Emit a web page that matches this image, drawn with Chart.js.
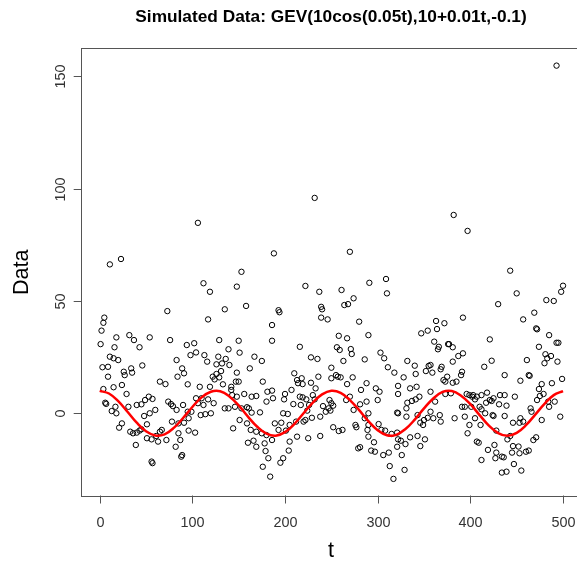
<!DOCTYPE html>
<html>
<head>
<meta charset="utf-8">
<script src="https://cdn.jsdelivr.net/npm/chart.js@4"></script>
<style>
  html, body { margin: 0; padding: 0; background: #fff; overflow: hidden; }
  #wrap { width: 592px; height: 568px; }
</style>
</head>
<body>
<div id="wrap"><canvas id="gevChart" width="592" height="568"></canvas></div>
<script>
// simulated GEV draws (t, value)
const tValues = [
  11, 23, 73, 5, 4, 2, 1, 18, 32, 37,
  43, 16, 54, 76, 11, 15, 20, 3, 9, 9,
  26, 27, 34, 35, 46, 83, 84, 65, 71, 4,
  15, 24, 29, 6, 7, 17, 13, 18, 31, 24,
  21, 40, 45, 49, 53, 57, 48, 54, 60, 51,
  33, 36, 40, 43, 45, 39, 51, 56, 61, 63,
  65, 67, 72, 78, 82, 85, 87, 56, 57, 74,
  77, 79, 83,
  188, 153, 112, 119, 148, 158, 135, 117, 186, 186,
  129, 150, 94, 102, 98, 104, 139, 151, 113, 116,
  128, 136, 167, 175, 89, 91, 126, 132, 140, 122,
  126, 131, 129, 162, 148, 147, 176, 181, 180, 187,
  95, 108, 119, 133, 142, 150, 124, 104, 110, 117,
  123, 106, 112, 142, 143, 148, 156, 164, 169, 135,
  139, 146, 153, 159, 161, 173, 164, 90, 95, 99,
  96, 91, 85, 109, 114, 120, 89, 88, 103, 96,
  144, 151, 159, 163, 169, 175, 180, 186, 160, 166,
  169, 178, 179, 182, 176, 184,
  270, 222, 237, 261, 291, 193, 194, 239, 240, 264,
  268, 274, 239, 246, 280, 290, 258, 267, 216, 256,
  259, 271, 272, 228, 235, 263, 286, 250, 210, 213,
  218, 214, 219, 236, 250, 255, 257, 260, 273, 228,
  233, 267, 288, 282, 186, 200, 199, 207, 209, 216,
  219, 223, 230, 232, 226, 224, 217, 241, 244, 247,
  249, 252, 248, 250, 266, 270, 281, 288, 290, 274,
  276, 277, 290, 198, 203, 196, 189, 193, 201, 205,
  212, 220, 222, 229, 238, 252, 258, 262, 198, 195,
  205, 213, 204, 225, 238, 279, 281,
  309, 310, 392, 363, 372, 354, 347, 364, 361, 376,
  377, 381, 365, 366, 303, 307, 332, 340, 341, 392,
  387, 381, 391, 390, 311, 318, 355, 357, 352, 359,
  369, 368, 328, 335, 322, 342, 298, 302, 300, 322,
  371, 375, 373, 381, 385, 379, 373, 332, 337, 341,
  345, 331, 362, 357, 357, 383, 391, 394, 286, 321,
  322, 331, 343, 346, 350, 349, 354, 360, 367, 368,
  296, 293, 297, 306, 312, 313, 317, 321, 325, 326,
  329, 330, 335, 343, 346, 351, 290, 289, 301, 304,
  308, 315, 321, 322,
  443, 450, 430, 482, 490, 500, 498, 469, 457, 471,
  472, 485, 493, 495, 421, 474, 481, 487, 483, 480,
  494, 423, 415, 461, 437, 463, 464, 454, 488, 499,
  477, 474, 475, 479, 472, 484, 491, 485, 497, 477,
  465, 466, 454, 457, 453, 446, 448, 432, 437, 425,
  418, 421, 412, 403, 399, 396, 402, 407, 405, 401,
  394, 410, 417, 423, 431, 439, 424, 416, 412, 405,
  399, 397, 411, 425, 437, 407, 409, 428, 419, 426,
  428, 434, 436, 427, 445, 446, 452, 453, 460, 463,
  468, 471, 440, 443, 412, 447, 455, 434, 439,
  106, 232, 382, 397, 493
];
const dataValues = [
  66.3, 68.7, 45.5, 42.6, 40.3, 36.8, 30.8, 33.8, 34.8, 32.6,
  29.4, 29.4, 33.8, 32.6, 25.2, 24.5, 23.7, 20.5, 20.7, 16.3,
  18.5, 17.0, 20.0, 18.1, 21.3, 23.7, 16.3, 14.1, 13.0, 10.8,
  11.6, 12.6, 8.6, 4.7, 4.2, 2.9, 1.0, 0.0, 2.9, -4.5,
  -6.4, 3.7, 4.0, 5.9, 7.4, 6.4, -1.2, 0.0, 1.5, -4.9,
  -8.2, -8.9, -8.6, -7.7, -7.1, -14.1, -11.1, -11.6, -10.1, -12.6,
  -8.2, -7.4, -11.9, -3.7, -14.9, -8.9, -11.9, -21.5, -22.2, 5.2,
  4.1, 3.2, 1.5,
  71.2, 63.0, 57.9, 54.1, 56.4, 47.8, 46.3, 41.8, 39.3, 32.3,
  32.6, 32.3, 30.4, 31.2, 25.9, 27.1, 28.5, 27.0, 25.9, 23.0,
  25.2, 24.2, 25.2, 23.3, 20.0, 17.8, 21.8, 22.2, 21.5, 16.3,
  17.5, 18.8, 16.0, 20.0, 18.1, 14.1, 14.1, 9.6, 5.2, 6.7,
  12.9, 11.8, 11.8, 12.9, 11.8, 14.1, 15.1, 6.7, 6.7, 6.2,
  4.5, 4.5, 3.7, 10.4, 8.1, 7.4, 8.6, 7.4, 7.7, 2.2,
  2.2, 2.9, 2.2, 2.7, 2.2, 0.4, 0.3, 3.7, 0.7, 0.7,
  -2.2, -4.2, -4.5, -0.8, -0.4, 0.0, -18.6, -19.3, -8.6, -7.7,
  -6.7, -3.0, -4.5, -7.4, -8.2, -8.9, -9.7, -11.9, -13.1, -12.2,
  -14.9, -13.4, -16.8, -20.0, -23.8, -28.2,
  71.9, 56.7, 54.1, 54.9, 58.1, 45.9, 45.0, 47.4, 46.3, 48.2,
  48.6, 51.2, 42.6, 41.8, 40.8, 34.8, 34.5, 33.4, 29.6, 29.4,
  28.2, 28.6, 26.4, 24.9, 24.2, 23.3, 24.0, 20.3, 17.8, 14.8,
  15.6, 13.4, 13.0, 16.3, 15.6, 17.0, 16.3, 16.0, 16.0, 13.6,
  11.1, 13.0, 13.4, 10.4, 10.1, 8.6, 6.2, 10.4, 4.1, 7.4,
  7.1, 6.2, 8.1, 6.2, 3.7, 1.2, 3.7, 3.2, 0.7, 2.2,
  1.2, 3.4, 5.9, 4.5, 5.9, 7.4, 4.0, 5.2, 0.0, 1.5,
  -5.2, -6.2, -10.4, 0.0, -0.3, -4.2, -4.5, -7.4, -7.7, -5.2,
  -3.7, -3.7, -3.0, -2.0, -1.5, -6.2, -7.9, -7.4, -20.0, -22.0,
  -12.6, -10.4, -16.6, -11.1, -10.1, -15.6, -15.1,
  59.8, 53.4, 42.6, 41.1, 40.1, 36.8, 35.6, 37.5, 31.9, 30.8,
  30.8, 29.4, 28.5, 29.6, 27.0, 24.5, 23.3, 21.2, 17.5, 26.7,
  25.5, 23.0, 18.5, 17.0, 20.5, 18.1, 21.1, 21.5, 18.8, 18.1,
  20.7, 19.6, 16.0, 11.1, 12.2, 11.8, 11.1, 9.6, 5.9, 8.6,
  14.8, 16.3, 14.1, 13.6, 14.1, 8.9, 8.6, 4.7, 5.5, 6.2,
  7.4, 2.2, 5.2, 9.6, 0.7, -2.2, 2.9, -1.5, -2.2, 0.3,
  0.0, -1.5, -0.8, -4.2, -3.0, -5.2, -2.0, -2.2, -0.8, -3.7,
  -12.9, -16.6, -17.1, -18.6, -17.5, -23.5, -29.2, -14.9, -12.2, -18.6,
  -25.2, -13.7, -10.7, -10.1, -14.6, -11.6, -5.2, -7.4, -4.8, -7.4,
  -7.7, -9.2, -8.6, -11.6,
  63.5, 53.4, 48.6, 50.4, 50.0, 56.8, 54.1, 44.8, 41.8, 37.8,
  37.4, 34.8, 31.4, 31.4, 32.9, 29.6, 26.3, 25.5, 24.5, 22.3,
  23.0, 23.4, 20.7, 23.7, 17.0, 17.0, 16.7, 14.5, 13.4, 15.3,
  13.0, 10.8, 7.7, 8.6, 5.9, 5.2, 5.2, 2.9, -1.5, -3.0,
  2.2, 0.7, -2.2, -3.7, -4.2, -4.2, 7.4, 8.1, 8.1, 6.7,
  9.2, 5.9, 8.1, 8.1, 8.1, 8.6, 7.4, 7.4, 6.2, 2.9,
  2.9, 2.9, 4.7, 5.5, 4.0, 3.4, -0.8, 0.0, 1.8, -2.2,
  -5.2, -8.9, -5.2, -1.2, -1.2, -12.6, -13.1, -7.7, -16.3, -14.1,
  -17.5, -19.3, -19.6, -20.0, -17.5, -14.6, -14.8, -17.8, -17.1, -16.6,
  -11.9, -10.7, -11.6, -10.1, -20.8, -22.6, -25.5, -26.4, -26.0,
  84.8, 95.9, 88.3, 81.2, 154.8
];

// location curve (red line), read every 10 steps of t
const curveT = [0, 10, 20, 30, 40, 50, 60, 70, 80, 90, 100, 110, 120, 130, 140, 150, 160, 170, 180, 190,
  200, 210, 220, 230, 240, 250, 260, 270, 280, 290, 300, 310, 320, 330, 340, 350, 360, 370, 380, 390,
  400, 410, 420, 430, 440, 450, 460, 470, 480, 490, 500];
const curveValues = [10, 8.8, 5.4, 0.7, -4.2, -8.0, -9.9, -9.4, -6.5, -2.1, 2.8, 7.1, 9.6, 9.8, 7.5, 3.5, -1.5, -6.0, -9.1, -10.0,
  -8.4, -4.8, 0.0, 4.8, 8.4, 10.0, 9.1, 5.9, 1.4, -3.5, -7.6, -9.8, -9.6, -7.0, -2.8, 2.2, 6.6, 9.5, 9.9, 7.8,
  4.1, -0.8, -5.5, -8.8, -10.0, -8.7, -5.3, -0.6, 4.2, 8.1, 9.9];

const xTicks = [0, 100, 200, 300, 400, 500];
const yTicks = [0, 50, 100, 150];

const titleText = 'Simulated Data: GEV(10cos(0.05t),10+0.01t,-0.1)';
const xTitle = 't';
const yTitle = 'Data';

const FONT = '"Liberation Sans", Arial, sans-serif';

// R style frame: box, outside ticks, rotated y labels
const rFrame = {
  id: 'rFrame',
  afterDraw(chart) {
    const { ctx, chartArea: a, scales } = chart;
    const xs = scales.x, ys = scales.y;
    ctx.save();
    ctx.strokeStyle = '#555';
    ctx.lineWidth = 1;
    ctx.strokeRect(Math.round(a.left) - 0.5, Math.round(a.top) - 0.5,
      a.right - a.left, Math.round(a.bottom) - Math.round(a.top) + 1);

    ctx.fillStyle = '#333';
    ctx.font = '14.4px ' + FONT;
    // x ticks
    ctx.textAlign = 'center';
    ctx.textBaseline = 'middle';
    xTicks.forEach(v => {
      const px = Math.round(xs.getPixelForValue(v)) + 0.5;
      ctx.beginPath();
      ctx.moveTo(px, a.bottom);
      ctx.lineTo(px, a.bottom + 8);
      ctx.stroke();
      ctx.fillText(String(v), px, 523);
    });
    // y ticks
    yTicks.forEach(v => {
      const py = Math.round(ys.getPixelForValue(v)) + 0.5;
      ctx.beginPath();
      ctx.moveTo(a.left, py);
      ctx.lineTo(a.left - 8, py);
      ctx.stroke();
      ctx.save();
      ctx.translate(61, py);
      ctx.rotate(-Math.PI / 2);
      ctx.fillText(String(v), 0, 0);
      ctx.restore();
    });

    ctx.fillStyle = '#000';
    ctx.font = '21.6px ' + FONT;
    ctx.fillText(xTitle, 331, 551);
    ctx.save();
    ctx.translate(22, (a.top + a.bottom) / 2);
    ctx.rotate(-Math.PI / 2);
    ctx.fillText(yTitle, 0, 0);
    ctx.restore();

    ctx.font = 'bold 17.3px ' + FONT;
    ctx.fillText(titleText, 331, 17);
    ctx.restore();
  }
};

const ctx = document.getElementById('gevChart').getContext('2d');
new Chart(ctx, {
  type: 'scatter',
  data: {
    datasets: [
      {
        label: 'location',
        type: 'line',
        data: curveT.map((t, i) => ({ x: t, y: curveValues[i] })),
        borderColor: '#ff0000',
        borderWidth: 2.5,
        pointRadius: 0,
        tension: 0.4,
        fill: false,
        order: 0
      },
      {
        label: 'Data',
        data: tValues.map((t, i) => ({ x: t, y: dataValues[i] })),
        pointStyle: 'circle',
        pointRadius: 2.7,
        pointBorderWidth: 1,
        pointBorderColor: '#000',
        pointBackgroundColor: 'rgba(0,0,0,0)',
        showLine: false,
        order: 1
      }
    ]
  },
  options: {
    responsive: false,
    animation: false,
    devicePixelRatio: 1,
    layout: { padding: { left: 81.7, top: 49, right: 11, bottom: 72.5 } },
    plugins: {
      legend: { display: false },
      tooltip: { enabled: false }
    },
    scales: {
      x: { type: 'linear', min: -19.4, max: 519.4, display: false },
      y: { type: 'linear', min: -36.6, max: 162.2, display: false }
    }
  },
  plugins: [rFrame]
});
</script>
</body>
</html>
